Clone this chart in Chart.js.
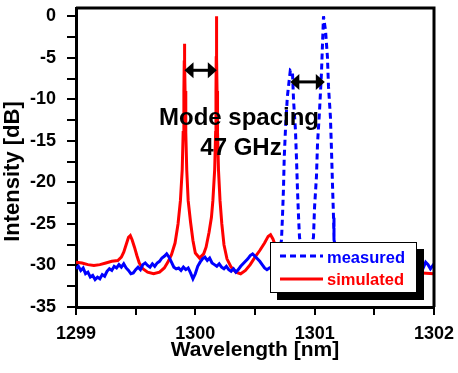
<!DOCTYPE html>
<html>
<head>
<meta charset="utf-8">
<script src="https://cdn.jsdelivr.net/npm/chart.js@4"></script>
<style>
  html, body { margin: 0; padding: 0; background: #fff; }
  #wrap { width: 458px; height: 373px; }
</style>
</head>
<body>
<div id="wrap"><canvas id="spectrumChart" width="458" height="373"></canvas></div>
<script>
// measured spectrum (blue, dashed)
const measuredWl = [
  1299.00, 1299.02, 1299.04, 1299.06, 1299.08, 1299.10, 1299.12, 1299.14, 1299.16, 1299.18,
  1299.20, 1299.22, 1299.24, 1299.26, 1299.28, 1299.30, 1299.32, 1299.34, 1299.36, 1299.38,
  1299.40, 1299.42, 1299.44, 1299.46, 1299.48, 1299.50, 1299.52, 1299.54, 1299.56, 1299.58,
  1299.60, 1299.62, 1299.64, 1299.66, 1299.68, 1299.70, 1299.72, 1299.74, 1299.76, 1299.78,
  1299.80, 1299.82, 1299.84, 1299.86, 1299.88, 1299.90, 1299.92, 1299.94, 1299.96, 1299.98,
  1300.00, 1300.02, 1300.04, 1300.06, 1300.08, 1300.10, 1300.12, 1300.14, 1300.16, 1300.18,
  1300.20, 1300.22, 1300.24, 1300.26, 1300.28, 1300.30, 1300.32, 1300.34, 1300.36, 1300.38,
  1300.40, 1300.42, 1300.44, 1300.46, 1300.48, 1300.50, 1300.52, 1300.54, 1300.56, 1300.58,
  1300.60, 1300.62, 1300.66, 1300.70,
  1300.722, 1300.730, 1300.739, 1300.745, 1300.756, 1300.771, 1300.796,
  1300.814, 1300.823, 1300.839, 1300.848, 1300.856, 1300.865, 1300.873,
  1300.90, 1300.95,
  1300.990, 1300.999, 1301.015, 1301.024, 1301.041, 1301.057, 1301.066, 1301.074,
  1301.091, 1301.107, 1301.116, 1301.132, 1301.141, 1301.149, 1301.158, 1301.162,
  1301.20, 1301.40, 1301.60, 1301.80,
  1301.87, 1301.89, 1301.91, 1301.93, 1301.95, 1301.97, 1301.99, 1302.00
];
const measuredDb = [
  -30.4, -30.1, -30.6, -30.3, -31.0, -30.8, -31.4, -31.2, -31.7, -31.4,
  -31.6, -31.1, -31.3, -30.7, -30.4, -30.6, -30.1, -30.3, -29.9, -30.2,
  -29.8, -30.3, -30.6, -31.0, -30.9, -30.5, -30.2, -30.5, -29.9, -29.7,
  -30.0, -30.2, -29.8, -30.1, -29.7, -29.5, -29.1, -28.9, -28.6, -29.0,
  -29.6, -30.2, -30.4, -30.3, -30.6, -30.2, -30.5, -30.3, -30.9, -31.6,
  -31.0, -30.1, -29.6, -29.2, -29.0, -29.4, -29.1, -29.7, -29.9, -30.1,
  -29.8, -30.2, -30.4, -30.1, -30.5, -30.7, -30.4, -30.8, -30.5, -30.1,
  -29.8, -29.5, -29.2, -28.8, -28.6, -28.9, -29.2, -29.5, -29.9, -30.3,
  -30.5, -30.3, -30.0, -28.8,
  -26.9, -24.2, -20.6, -17.0, -13.4, -9.7, -6.5,
  -6.7, -10.1, -13.7, -17.3, -20.9, -24.2, -26.6,
  -29.0, -29.2,
  -26.6, -23.0, -19.3, -15.3, -11.3, -6.8, -3.2, 0.0,
  -1.7, -4.9, -8.5, -12.1, -16.1, -20.1, -24.2, -26.9,
  -29.5, -30.0, -30.0, -29.8,
  -29.2, -29.8, -30.3, -29.6, -29.9, -30.4, -30.0, -30.2
];

// simulated spectrum (red, solid)
const simulatedWl = [
  1299.00, 1299.05, 1299.10, 1299.15, 1299.20, 1299.25, 1299.30, 1299.35, 1299.38, 1299.40,
  1299.42, 1299.44, 1299.455, 1299.47, 1299.49, 1299.51, 1299.53, 1299.56, 1299.60, 1299.65,
  1299.70, 1299.74, 1299.77, 1299.80, 1299.83, 1299.855, 1299.875, 1299.89, 1299.898, 1299.904,
  1299.907, 1299.909, 1299.911, 1299.914, 1299.92, 1299.928, 1299.94, 1299.96, 1299.98, 1300.00,
  1300.035, 1300.07, 1300.09, 1300.115, 1300.135, 1300.147, 1300.162, 1300.170, 1300.173, 1300.175,
  1300.177, 1300.179, 1300.182, 1300.186, 1300.194, 1300.207, 1300.222, 1300.24, 1300.265, 1300.30,
  1300.34, 1300.38, 1300.42, 1300.46, 1300.50, 1300.54, 1300.58, 1300.61, 1300.63, 1300.65,
  1300.68, 1300.72, 1300.78, 1300.90, 1301.10, 1301.40, 1301.70, 1301.86, 1301.90, 1302.00
];
const simulatedDb = [
  -29.6, -29.7, -29.9, -30.0, -29.9, -29.7, -29.5, -29.4, -29.0, -28.4,
  -27.5, -26.6, -26.4, -26.9, -27.8, -28.8, -29.7, -30.4, -30.8, -31.0,
  -30.8, -30.3, -29.6, -28.7, -27.3, -25.0, -22.2, -18.5, -14.0, -9.0,
  -5.5, -3.3, -5.5, -9.0, -14.0, -18.5, -22.2, -24.8, -27.0, -28.5,
  -29.1, -28.6, -27.8, -26.0, -24.2, -22.2, -18.5, -14.0, -9.0, -5.0,
  0.0, -5.0, -9.0, -14.0, -18.5, -22.2, -25.0, -27.5, -29.2, -30.2,
  -30.8, -31.0, -30.6, -29.9, -29.0, -28.2, -27.3, -26.5, -26.3, -26.8,
  -28.0, -29.5, -30.5, -31.0, -31.0, -31.0, -31.0, -30.9, -30.9, -31.0
];

// axis ticks (labels only on the major ones)
const xTickValues = [1299, 1299.5, 1300, 1300.5, 1301, 1301.5, 1302];
const xTickLabels = ["1299", "", "1300", "", "1301", "", "1302"];
const yTickValues = [-35, -32.5, -30, -27.5, -25, -22.5, -20, -17.5, -15, -12.5, -10, -7.5, -5, -2.5, 0];
const yTickLabels = ["-35", "", "-30", "", "-25", "", "-20", "", "-15", "", "-10", "", "-5", "", "0"];

// mode spacing arrows [from, to, level]
const spacingArrows = [
  [1299.909, 1300.180, -6.5],
  [1300.796, 1301.085, -7.9]
];
const annotationLines = ["Mode spacing", "47 GHz"];

const FONT = "'Liberation Sans', Arial, sans-serif";
const BLUE = "#0000ff";
const RED = "#ff0000";

function toPoints(xs, ys) {
  return xs.map((x, i) => ({ x: x, y: ys[i] }));
}

function arrowHead(ctx, x, y, dir) {
  ctx.beginPath();
  ctx.moveTo(x, y);
  ctx.lineTo(x - dir * 9, y - 8);
  ctx.lineTo(x - dir * 9, y + 8);
  ctx.closePath();
  ctx.fill();
}

const overlayPlugin = {
  id: "overlay",
  afterDatasetsDraw(chart) {
    const ctx = chart.ctx;
    const xs = chart.scales.x;
    const ys = chart.scales.y;

    // arrows
    ctx.save();
    ctx.fillStyle = "#000";
    ctx.strokeStyle = "#000";
    ctx.lineWidth = 3;
    spacingArrows.forEach(a => {
      const x1 = xs.getPixelForValue(a[0]);
      const x2 = xs.getPixelForValue(a[1]);
      const y = ys.getPixelForValue(a[2]);
      ctx.beginPath();
      ctx.moveTo(x1 + 6, y);
      ctx.lineTo(x2 - 6, y);
      ctx.stroke();
      arrowHead(ctx, x1, y, -1);
      arrowHead(ctx, x2, y, 1);
    });

    // annotation text
    ctx.font = "bold 24px " + FONT;
    ctx.textAlign = "center";
    ctx.textBaseline = "alphabetic";
    ctx.fillText(annotationLines[0], 239, 125);
    ctx.fillText(annotationLines[1], 241, 155);

    // legend with shadow
    ctx.fillStyle = "#000";
    ctx.fillRect(277, 249, 147, 51);
    ctx.fillStyle = "#fff";
    ctx.fillRect(270, 242, 147, 51);
    ctx.lineWidth = 1;
    ctx.strokeRect(270.5, 242.5, 146, 50);

    ctx.lineWidth = 3;
    ctx.strokeStyle = BLUE;
    ctx.setLineDash([6, 4]);
    ctx.beginPath();
    ctx.moveTo(280, 256);
    ctx.lineTo(323, 256);
    ctx.stroke();
    ctx.setLineDash([]);
    ctx.strokeStyle = RED;
    ctx.beginPath();
    ctx.moveTo(280, 279);
    ctx.lineTo(323, 279);
    ctx.stroke();

    ctx.font = "bold 16.5px " + FONT;
    ctx.textAlign = "left";
    ctx.fillStyle = BLUE;
    ctx.fillText("measured", 327, 263);
    ctx.fillStyle = RED;
    ctx.fillText("simulated", 327, 285);
    ctx.restore();
  },
  afterDraw(chart) {
    const ctx = chart.ctx;
    const area = chart.chartArea;
    ctx.save();
    ctx.strokeStyle = "#000";
    ctx.lineWidth = 3;
    ctx.beginPath();
    ctx.moveTo(area.left, area.top);
    ctx.lineTo(area.right, area.top);
    ctx.lineTo(area.right, area.bottom);
    ctx.stroke();

    // y axis title
    ctx.translate(19, 171.5);
    ctx.rotate(-Math.PI / 2);
    ctx.font = "bold 22px " + FONT;
    ctx.fillStyle = "#000";
    ctx.textAlign = "center";
    ctx.textBaseline = "alphabetic";
    ctx.fillText("Intensity [dB]", 0, 0);
    ctx.restore();
  }
};

const ctx = document.getElementById("spectrumChart").getContext("2d");

new Chart(ctx, {
  type: "line",
  data: {
    datasets: [
      {
        label: "measured",
        data: toPoints(measuredWl, measuredDb),
        borderColor: BLUE,
        borderWidth: 3,
        pointRadius: 0,
        tension: 0,
        segment: {
          borderDash: c => (c.p0.parsed.y > -28 || c.p1.parsed.y > -28) ? [6, 4] : []
        }
      },
      {
        label: "simulated",
        data: toPoints(simulatedWl, simulatedDb),
        borderColor: RED,
        borderWidth: 3,
        pointRadius: 0,
        tension: 0
      }
    ]
  },
  options: {
    responsive: false,
    animation: false,
    layout: { padding: { top: 8, right: 24, left: 0, bottom: 0 } },
    plugins: {
      legend: { display: false },
      tooltip: { enabled: false }
    },
    scales: {
      x: {
        type: "linear",
        min: 1299,
        max: 1302,
        afterBuildTicks: s => { s.ticks = xTickValues.map(v => ({ value: v })); },
        afterFit: s => {
          s.height = 66;
          s.paddingLeft = 0;
          s.paddingRight = 0;
        },
        ticks: {
          autoSkip: false,
          color: "#000",
          padding: 8,
          maxRotation: 0,
          font: { family: FONT, size: 18, weight: "bold" },
          callback: (v, i) => xTickLabels[i]
        },
        grid: {
          drawOnChartArea: false,
          drawTicks: true,
          tickLength: 8,
          color: "#000",
          lineWidth: 2
        },
        border: { display: true, color: "#000", width: 3 },
        title: {
          display: true,
          text: "Wavelength [nm]",
          color: "#000",
          font: { family: FONT, size: 21, weight: "bold" },
          padding: { top: 0, bottom: 10 }
        }
      },
      y: {
        min: -35,
        max: 1,
        afterBuildTicks: s => { s.ticks = yTickValues.map(v => ({ value: v })); },
        afterFit: s => {
          s.width = 76;
          s.paddingTop = 0;
          s.paddingBottom = 0;
        },
        ticks: {
          autoSkip: false,
          color: "#000",
          padding: 11,
          font: { family: FONT, size: 18, weight: "bold" },
          callback: (v, i) => yTickLabels[i]
        },
        grid: {
          drawOnChartArea: false,
          drawTicks: true,
          tickLength: 9,
          color: "#000",
          lineWidth: 2
        },
        border: { display: true, color: "#000", width: 3 }
      }
    }
  },
  plugins: [overlayPlugin]
});
</script>
</body>
</html>
